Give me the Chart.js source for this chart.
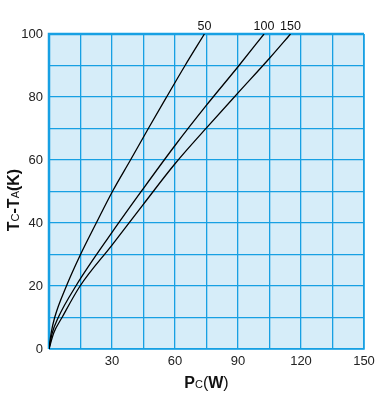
<!DOCTYPE html>
<html>
<head>
<meta charset="utf-8">
<script src="https://cdn.jsdelivr.net/npm/chart.js@4.4.1/dist/chart.umd.min.js"></script>
<style>
  html, body { margin: 0; padding: 0; background: #fff; }
  #wrap { width: 381px; height: 398px; position: relative; }
</style>
</head>
<body>
<div id="wrap"><canvas id="chart"></canvas></div>
<script>
// curve labels (printed above the plot)
const curveNames = ['50', '100', '150'];

// Pc (W) / Tc-Ta (K)
const pc50 = [0, 1.0, 2.7, 8.3, 15, 22.5, 30.2, 38.8, 47.3, 56, 64.8, 74];
const dt50 = [0, 5, 10, 20, 30, 40, 50, 60, 70, 80, 90, 100];

const pc100 = [0, 1.5, 4.4, 12.8, 30, 45, 60, 75, 90, 102.4];
const dt100 = [0, 5, 10, 20, 37, 51, 64.6, 77.4, 89.6, 100];

const pc150 = [0, 2.2, 6.2, 14.8, 30, 45, 60, 75, 90, 105, 115];
const dt150 = [0, 5, 10, 20, 33, 46, 58.8, 70.2, 81.3, 92.3, 100];

// labelled ticks
const xTickLabels = [30, 60, 90, 120, 150];
const yTickLabels = [0, 20, 40, 60, 80, 100];

const FONT = "'Liberation Sans', Arial, sans-serif";
const GRID = '#17a0e3';
const FILL = '#d6edf9';

function toPoints(xs, ys) {
    return xs.map((x, i) => ({ x: x, y: ys[i] }));
}

function drawRich(ctx, parts, cx, cy) {
    let total = 0;
    parts.forEach(p => { ctx.font = p.font; total += ctx.measureText(p.text).width; });
    let x = cx - total / 2;
    ctx.textBaseline = 'alphabetic';
    ctx.textAlign = 'left';
    parts.forEach(p => {
        ctx.font = p.font;
        ctx.fillText(p.text, x, cy + (p.dy || 0));
        x += ctx.measureText(p.text).width;
    });
}

const plotDecor = {
    id: 'plotDecor',
    beforeDraw(chart) {
        const { ctx, chartArea: a } = chart;
        ctx.save();
        ctx.fillStyle = FILL;
        ctx.fillRect(a.left, a.top, a.right - a.left, a.bottom - a.top);
        ctx.restore();
    },
    beforeDatasetsDraw(chart) {
        const { ctx, chartArea: a } = chart;
        ctx.save();
        ctx.strokeStyle = GRID;
        ctx.lineWidth = 2.5;
        ctx.beginPath();
        ctx.moveTo(a.left, a.bottom);
        ctx.lineTo(a.left, a.top);
        ctx.lineTo(a.right, a.top);
        ctx.stroke();
        ctx.lineWidth = 1.5;
        ctx.beginPath();
        ctx.moveTo(a.right, a.top);
        ctx.lineTo(a.right, a.bottom);
        ctx.lineTo(a.left, a.bottom);
        ctx.stroke();
        ctx.restore();
    },
    afterDraw(chart) {
        const { ctx, chartArea: a, scales } = chart;
        ctx.save();
        ctx.fillStyle = '#111';
        // curve names at the top end of each curve
        ctx.font = '12.5px ' + FONT;
        ctx.textAlign = 'center';
        ctx.textBaseline = 'alphabetic';
        chart.data.datasets.forEach(ds => {
            const last = ds.data[ds.data.length - 1];
            ctx.fillText(ds.label, scales.x.getPixelForValue(last.x), a.top - 4);
        });
        // x title: Pc(W)
        drawRich(ctx, [
            { text: 'P', font: 'bold 16px ' + FONT },
            { text: 'C', font: '11px ' + FONT },
            { text: '(', font: '16px ' + FONT },
            { text: 'W', font: 'bold 16px ' + FONT },
            { text: ')', font: '16px ' + FONT }
        ], (a.left + a.right) / 2, 388);
        // y title: Tc-Ta(K)
        ctx.translate(19, 200);
        ctx.rotate(-Math.PI / 2);
        drawRich(ctx, [
            { text: 'T', font: 'bold 16px ' + FONT },
            { text: 'C', font: '11px ' + FONT },
            { text: '-', font: 'bold 16px ' + FONT },
            { text: 'T', font: 'bold 16px ' + FONT },
            { text: 'A', font: '11px ' + FONT },
            { text: '(', font: 'bold 16px ' + FONT },
            { text: 'K', font: 'bold 16px ' + FONT },
            { text: ')', font: 'bold 16px ' + FONT }
        ], 0, 0);
        ctx.restore();
    }
};

const curveStyle = {
    borderColor: '#000',
    borderWidth: 1.3,
    pointRadius: 0,
    showLine: true,
    fill: false,
    cubicInterpolationMode: 'monotone'
};

const ctx = document.getElementById('chart').getContext('2d');
new Chart(ctx, {
    type: 'scatter',
    data: {
        datasets: [
            Object.assign({ label: curveNames[0], data: toPoints(pc50, dt50) }, curveStyle),
            Object.assign({ label: curveNames[1], data: toPoints(pc100, dt100) }, curveStyle),
            Object.assign({ label: curveNames[2], data: toPoints(pc150, dt150) }, curveStyle)
        ]
    },
    options: {
        responsive: true,
        maintainAspectRatio: false,
        animation: false,
        layout: { padding: { top: 34, right: 17, left: 0, bottom: 0 } },
        plugins: {
            legend: { display: false },
            tooltip: { enabled: false }
        },
        scales: {
            x: {
                type: 'linear',
                min: 0,
                max: 150,
                afterFit(scale) { scale.height = 49; },
                border: { display: false },
                grid: { color: GRID, lineWidth: 1.3, drawTicks: false },
                ticks: {
                    stepSize: 15,
                    padding: 5,
                    color: '#222',
                    font: { family: FONT, size: 13 },
                    maxRotation: 0,
                    autoSkip: false,
                    callback: v => xTickLabels.includes(v) ? String(v) : ''
                }
            },
            y: {
                type: 'linear',
                min: 0,
                max: 100,
                afterFit(scale) { scale.width = 49; },
                border: { display: false },
                grid: { color: GRID, lineWidth: 1.3, drawTicks: false },
                ticks: {
                    stepSize: 10,
                    padding: 6,
                    color: '#222',
                    font: { family: FONT, size: 13 },
                    autoSkip: false,
                    callback: v => yTickLabels.includes(v) ? String(v) : ''
                }
            }
        }
    },
    plugins: [plotDecor]
});
</script>
</body>
</html>
